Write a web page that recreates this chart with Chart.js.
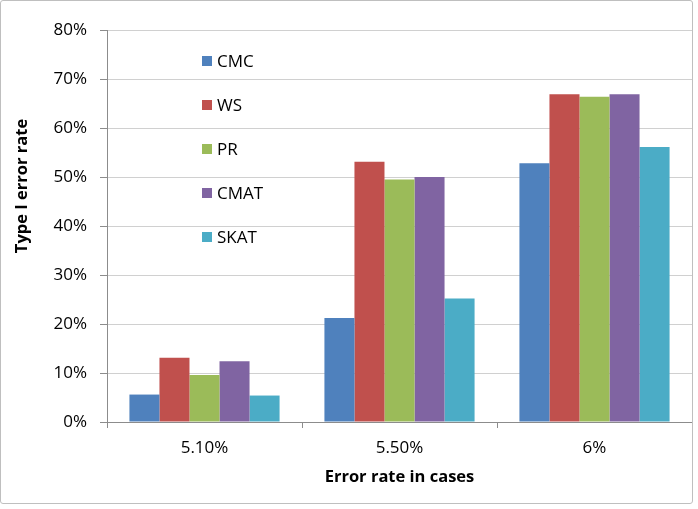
<!DOCTYPE html>
<html>
<head>
<meta charset="utf-8">
<script src="https://cdn.jsdelivr.net/npm/chart.js@4"></script>
<style>
  body { margin: 0; background: #fff; }
  #wrap { position: relative; width: 698px; height: 509px; }
  #frame { position: absolute; left: 0; top: 0; width: 691px; height: 502px; border: 1px solid #bfbfbf; border-radius: 3px; pointer-events: none; }
</style>
</head>
<body>
<div id="wrap">
  <canvas id="myChart" width="698" height="509"></canvas>
  <div id="frame"></div>
</div>
<script>
const categories = ["5.10%", "5.50%", "6%"];
const seriesNames = ["CMC", "WS", "PR", "CMAT", "SKAT"];
const cmc  = [5.6, 21.2, 52.8];
const ws   = [13.1, 53.1, 66.9];
const pr   = [9.6, 49.5, 66.4];
const cmat = [12.4, 50.0, 66.9];
const skat = [5.4, 25.2, 56.1];
const yTicks = [0, 10, 20, 30, 40, 50, 60, 70, 80];
const yTitle = "Type I error rate";

const barColors = ["#4F81BD", "#C0504D", "#9BBB59", "#8064A2", "#4BACC6"];
const allValues = [cmc, ws, pr, cmat, skat];

const FONT = "'Open Sans', 'Liberation Sans', sans-serif";

let datasets = [];
for (let i = 0; i < seriesNames.length; i++) {
  datasets.push({
    label: seriesNames[i],
    data: allValues[i],
    backgroundColor: barColors[i],
    borderWidth: 0,
    barPercentage: 1,
    categoryPercentage: 0.77,
  });
}

// legend sits inside the plot, stacked vertically
// y title is drawn by hand: excel puts it above the axis middle
const extras = {
  id: "extras",
  afterDraw(chart) {
    const ctx = chart.ctx;
    ctx.save();
    ctx.font = "17px " + FONT;
    ctx.textBaseline = "middle";
    chart.data.datasets.forEach((ds, i) => {
      const y = 61 + i * 44;
      ctx.fillStyle = ds.backgroundColor;
      ctx.fillRect(202, y - 5, 10, 10);
      ctx.fillStyle = "#000";
      ctx.fillText(ds.label, 217, y + 1);
    });

    ctx.translate(22, 186);
    ctx.rotate(-Math.PI / 2);
    ctx.textAlign = "center";
    ctx.font = "bold 16.5px " + FONT;
    ctx.fillText(yTitle, 0, 0);
    ctx.restore();
  }
};

new Chart("myChart", {
  type: "bar",
  data: {
    labels: categories,
    datasets: datasets
  },
  plugins: [extras],
  options: {
    responsive: false,
    animation: false,
    layout: { padding: { top: 30, right: 6, bottom: 0, left: 0 } },
    plugins: {
      legend: { display: false },
      tooltip: { enabled: false },
    },
    scales: {
      x: {
        afterFit: (scale) => { scale.height = 87; },
        grid: {
          display: true,
          drawOnChartArea: false,
          offset: true,
          tickLength: 6,
          tickColor: "#8c8c8c",
        },
        border: { color: "#8c8c8c" },
        ticks: {
          padding: 10,
          color: "#000",
          font: { family: FONT, size: 17 },
        },
        title: {
          display: true,
          text: "Error rate in cases",
          color: "#000",
          font: { family: FONT, size: 16.5, weight: "bold" },
          padding: { top: 0, bottom: 22 },
        },
      },
      y: {
        min: 0,
        max: 80,
        afterFit: (scale) => { scale.width = 107; },
        afterBuildTicks: (scale) => { scale.ticks = yTicks.map(v => ({ value: v })); },
        grid: {
          color: "#d0d0d0",
          tickLength: 7,
          tickColor: "#8c8c8c",
        },
        border: { color: "#8c8c8c" },
        ticks: {
          padding: 13,
          color: "#000",
          font: { family: FONT, size: 17 },
          callback: (v) => v + "%",
        },
      },
    },
  },
});
</script>
</body>
</html>
